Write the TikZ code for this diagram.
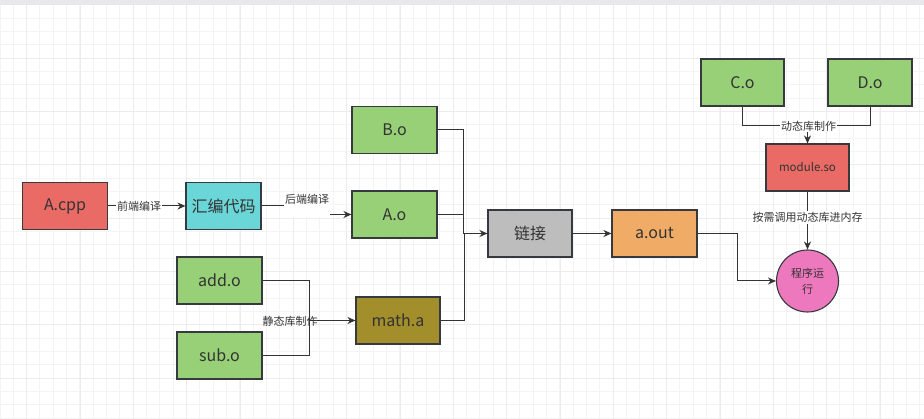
\documentclass[tikz,border=0pt]{standalone}
\usepackage{fontspec}
\setmainfont{Noto Sans CJK SC}
\usetikzlibrary{arrows.meta}

\definecolor{linec}{HTML}{333333}
\definecolor{borderc}{HTML}{36393D}
\definecolor{redc}{HTML}{EA6B66}
\definecolor{cyanc}{HTML}{6BD6D8}
\definecolor{greenc}{HTML}{97D077}
\definecolor{grayc}{HTML}{BDBDBD}
\definecolor{orangec}{HTML}{F0AC67}
\definecolor{olivec}{HTML}{A38E2C}
\definecolor{pinkc}{HTML}{EE78BE}
\definecolor{gridminor}{HTML}{F4F4F4}
\definecolor{gridmajor}{HTML}{ECECEC}
\definecolor{topbar}{HTML}{E8E8EA}

\begin{document}
\begin{tikzpicture}[
  x=1pt, y=-1pt,
  box/.style={rectangle, draw=borderc, line width=1.1pt, text=linec,
    minimum width=85pt, minimum height=47pt, inner sep=0pt,
    font=\fontsize{16}{19}\selectfont},
  lnode/.style={text=linec, inner sep=1pt, font=\fontsize{11}{13}\selectfont},
  arw/.style={-{Stealth[length=8pt,width=7pt]}, draw=linec, line width=1pt},
  symline/.style={-, draw=linec, line width=1pt}
  ]

\useasboundingbox (0,0) rectangle (924,419);

% background grid
\fill [white] (0,0) rectangle (924,419);
\foreach \i in {0,...,69}
  \draw [gridminor, line width=1pt] (13.333*\i,5) -- (13.333*\i,419);
\foreach \i in {0,...,31}
  \draw [gridminor, line width=1pt] (0,5+13.333*\i) -- (924,5+13.333*\i);
\foreach \i in {0,...,17}
  \draw [gridmajor, line width=1pt] (26.667+53.333*\i,5) -- (26.667+53.333*\i,419);
\foreach \i in {0,...,7}
  \draw [gridmajor, line width=1pt] (0,5+53.333*\i) -- (924,5+53.333*\i);
\fill [topbar] (0,0) rectangle (924,5);

% compile chain

\node [box, fill=redc] (acpp) at (65,206) {A.cpp};
\node [box, fill=cyanc, minimum width=75pt] (asm) at (223.5,206) {汇编代码};
\node [box, fill=greenc] (bo) at (394.5,130) {B.o};
\node [box, fill=greenc] (ao) at (394.5,214.5) {A.o};

\draw [arw] (acpp) -- node [lnode, pos=0.4, fill=white] {前端编译} (asm);
\draw [arw] (asm.east) -- ++(46,0) |- (ao.west);
\node [lnode, fill=white, text height=8pt, text depth=12pt] (backlbl) at (307,206) {后端编译};

% static library

\node [box, fill=greenc] (addo) at (219.5,280.5) {add.o};
\node [box, fill=greenc] (subo) at (219.5,355.5) {sub.o};
\node [box, fill=olivec, minimum width=84pt] (matha) at (398,320.5) {math.a};
\coordinate (sj) at (309,320.5);

\draw [symline] (addo.east) -| (sj);
\draw [symline] (subo.east) -| (sj);
\draw [arw] (sj) -- (matha.west);
\node [lnode] (statlbl) at (290,321) {静态库制作};

% link

\node [box, fill=grayc, minimum width=84pt] (link) at (530,233.5) {链接};
\node [box, fill=orangec] (aout) at (654.5,233.5) {a.out};
\coordinate (lj) at (463,233.5);

\draw [symline] (bo.east) -| (lj);
\draw [symline] (ao.east) -| (lj);
\draw [symline] (matha.east) -| ([xshift=1pt]lj);
\draw [arw] (lj) -- (link.west);
\draw [arw] (link) -- (aout);

% dynamic library

\node [box, fill=greenc, minimum width=83pt] (co) at (742.5,82.5) {C.o};
\node [box, fill=greenc, minimum width=84pt] (do) at (870,82.5) {D.o};
\node [box, fill=redc, minimum width=83pt, font=\fontsize{11.5}{14}\selectfont] (mod) at (807.5,167.5) {module.so};
\node [circle, draw=borderc, line width=1.1pt, fill=pinkc, text=linec,
  minimum size=62pt, inner sep=0pt, align=center,
  font=\fontsize{11}{16}\selectfont] (run) at (807.5,281) {程序运\\行};
\coordinate (dj) at (807.5,126);

\draw [symline] (co.south) |- (dj);
\draw [symline] (do.south) |- (dj);
\draw [arw] (dj) -- (mod.north);
\node [lnode, fill=white] (dynlbl) at (808.5,126) {动态库制作};

\draw [arw] (mod) -- node [lnode, fill=white, pos=0.45] {按需调用动态库进内存} (run);
\draw [arw] (aout.east) -- ++(40,0) |- (run.west);

\end{tikzpicture}
\end{document}
